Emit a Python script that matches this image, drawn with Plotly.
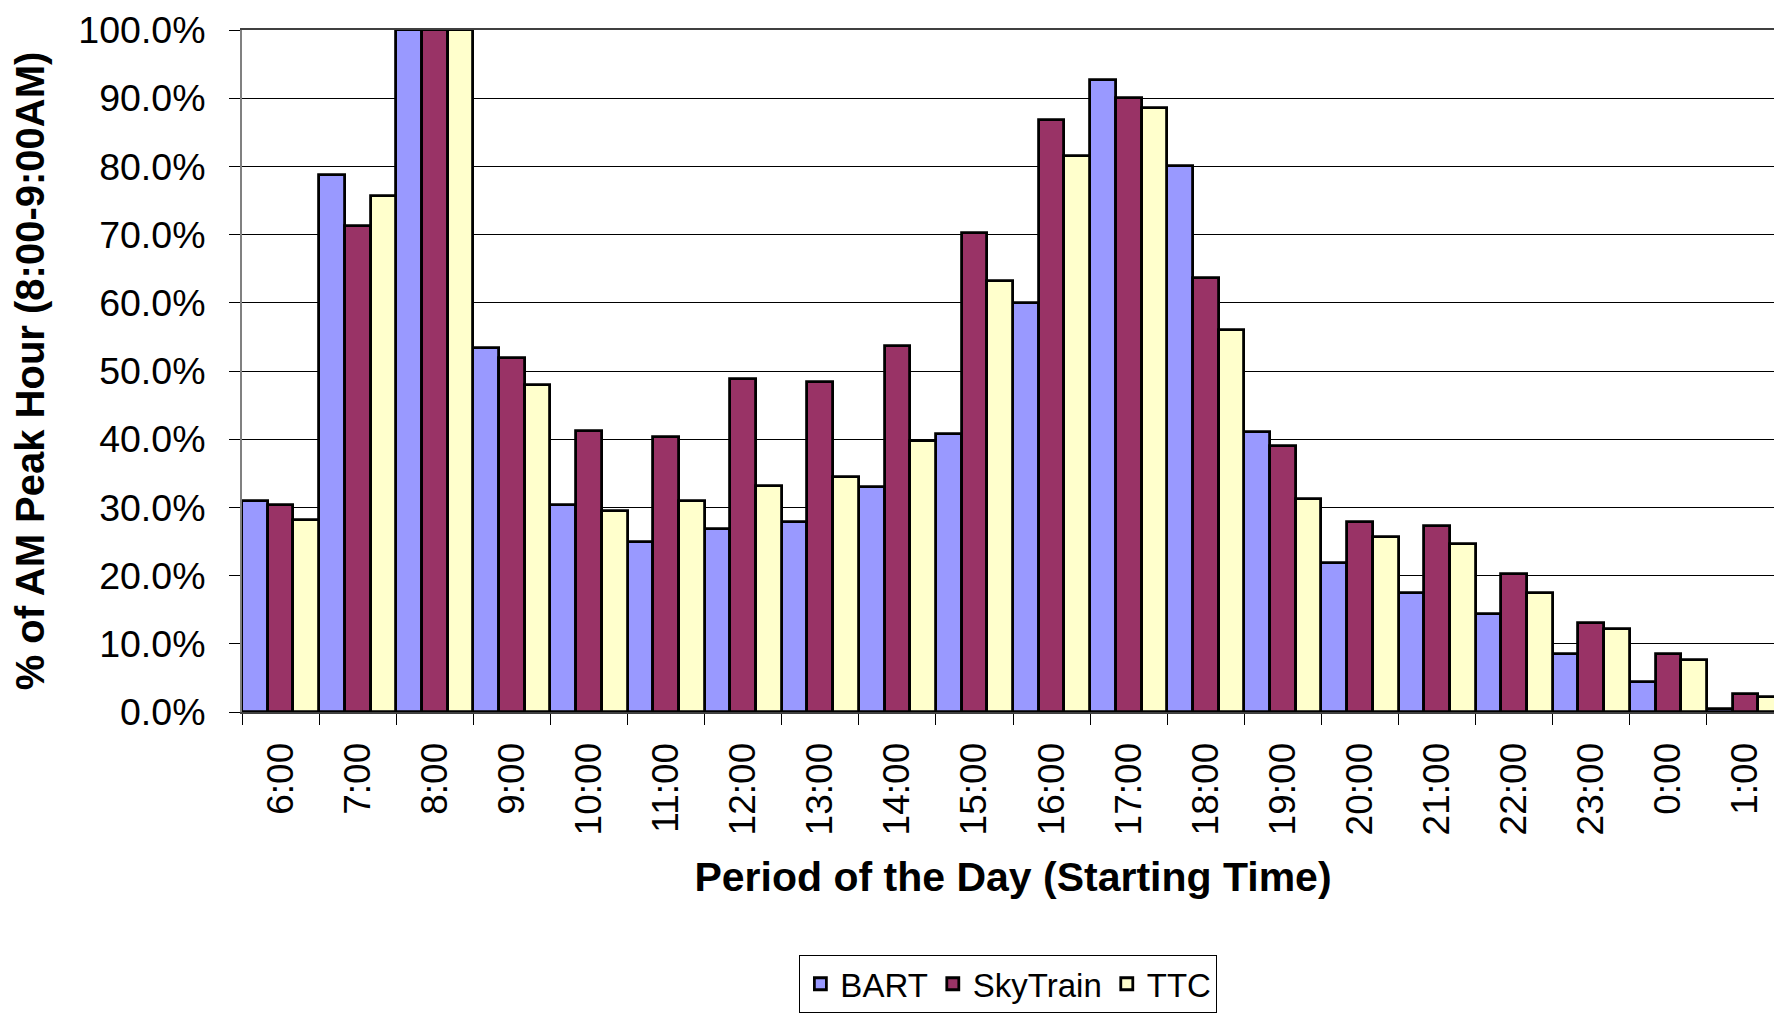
import plotly.graph_objects as go

periods = ["6:00", "7:00", "8:00", "9:00", "10:00", "11:00", "12:00", "13:00", "14:00",
           "15:00", "16:00", "17:00", "18:00", "19:00", "20:00", "21:00", "22:00", "23:00",
           "0:00", "1:00"]
bart = [30.9, 78.8, 100.0, 53.3, 30.4, 25.0, 26.9, 27.8, 33.0, 40.8, 60.0, 92.7, 80.1,
        41.1, 21.9, 17.4, 14.3, 8.5, 4.4, 0.5]
skytrain = [30.4, 71.3, 100.0, 51.9, 41.2, 40.3, 48.8, 48.4, 53.7, 70.3, 86.8, 90.0, 63.6,
            39.0, 27.8, 27.3, 20.2, 13.0, 8.5, 2.7]
ttc = [28.2, 75.7, 100.0, 47.9, 29.5, 30.9, 33.1, 34.4, 39.8, 63.2, 81.5, 88.6, 56.0,
       31.3, 25.6, 24.6, 17.4, 12.1, 7.6, 2.2]

series = [("BART", bart, "#9999FF"), ("SkyTrain", skytrain, "#993366"), ("TTC", ttc, "#FFFFCC")]

FONT = "Liberation Sans, Arial, sans-serif"

fig = go.Figure()
for name, vals, col in series:
    fig.add_trace(go.Bar(
        x=periods, y=vals, name=name,
        marker=dict(color=col, line=dict(color="black", width=2.8)),
    ))

fig.update_layout(
    width=1782, height=1014,
    margin=dict(l=234, r=6, t=22, b=310, autoexpand=False),
    paper_bgcolor="white", plot_bgcolor="white",
    barmode="group", bargap=0, bargroupgap=0,
    font=dict(family=FONT, color="black"),
    legend=dict(
        orientation="h", x=0.497, xanchor="center", y=-0.356, yanchor="top",
        font=dict(size=33, family=FONT), bordercolor="black", borderwidth=1,
        itemwidth=30, tracegroupgap=0,
    ),
    xaxis=dict(
        type="category", tickangle=-90, tickson="boundaries",
        ticks="outside", ticklen=11, tickcolor="black", tickwidth=1,
        tickfont=dict(size=37, family=FONT), ticklabelstandoff=14,
        showline=True, linecolor="#404040", linewidth=2, mirror=True,
        showgrid=False,
        title=dict(text="<b>Period of the Day (Starting Time)</b>",
                   font=dict(size=41, family=FONT), standoff=28),
    ),
    yaxis=dict(
        range=[0, 100], dtick=10, tickformat=".1f", ticksuffix="%",
        ticks="outside", ticklen=11, tickcolor="black", tickwidth=1,
        tickfont=dict(size=37.5, family=FONT), ticklabelstandoff=16,
        ticklabeloverflow="allow",
        showline=True, linecolor="#808080", linewidth=2, mirror=True,
        showgrid=True, gridcolor="black", gridwidth=1, zeroline=False,
        title=dict(text="<b>% of AM Peak Hour (8:00-9:00AM)</b>",
                   font=dict(size=40, family=FONT), standoff=36),
    ),
)

fig.write_html("out.html")
